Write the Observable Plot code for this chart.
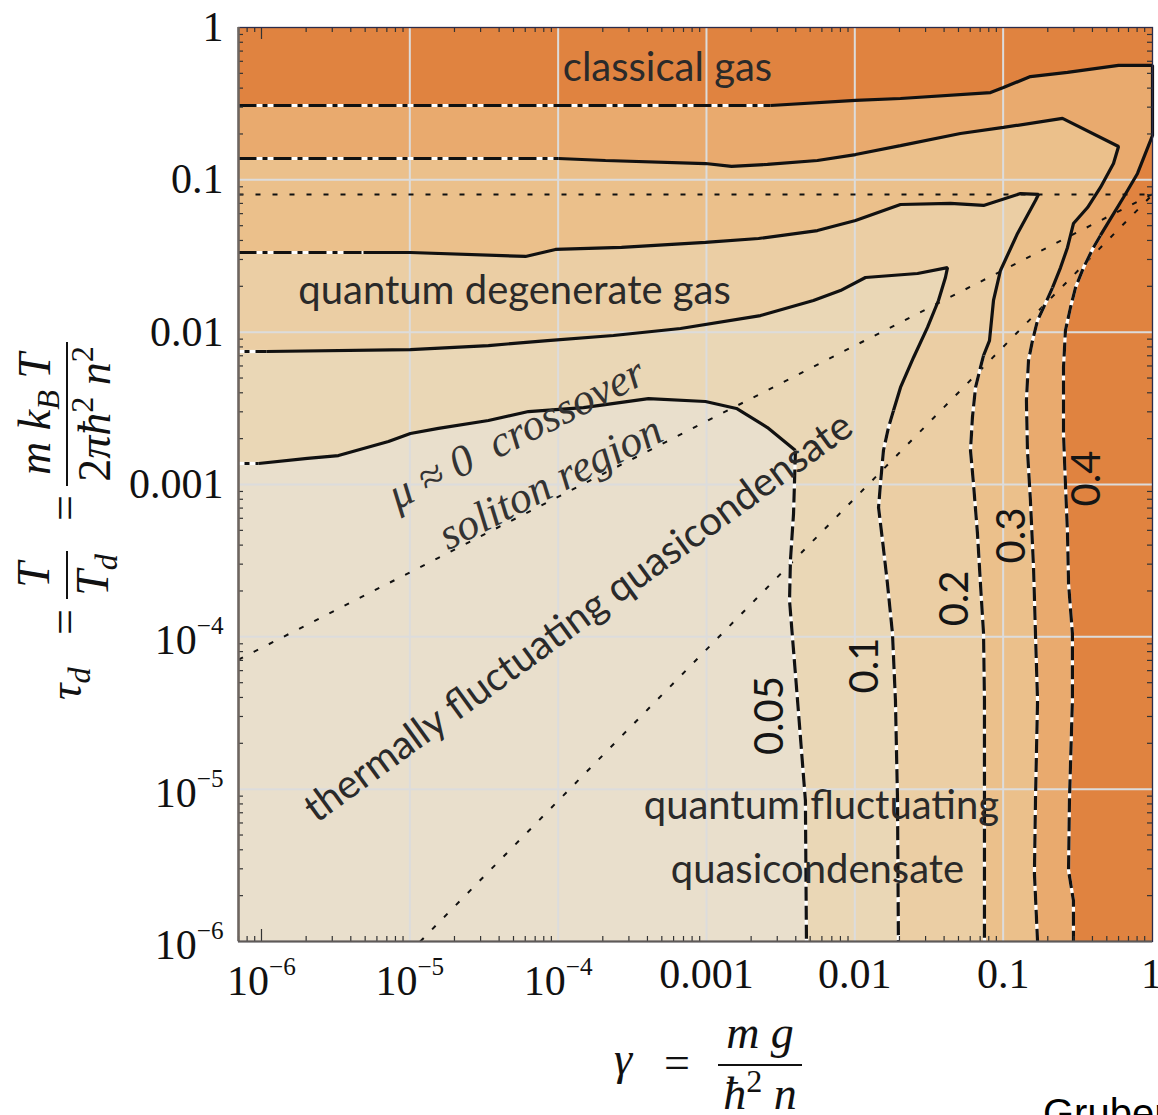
<!DOCTYPE html>
<html><head><meta charset="utf-8">
<script src="https://cdn.jsdelivr.net/npm/d3@7"></script>
<script src="https://cdn.jsdelivr.net/npm/@observablehq/plot@0.6"></script>
<style>
html,body{margin:0;padding:0;background:#fff;}
#chart{width:1158px;height:1115px;overflow:hidden;}
</style></head><body><div id="chart"></div>
<script>
// ---- data (log10 gamma, log10 tau) ----
const xTicks = [1e-6, 1e-5, 1e-4, 1e-3, 1e-2, 1e-1, 1];
const xTickLabels = ["10^−6", "10^−5", "10^−4", "0.001", "0.01", "0.1", "1"];
const yTicks = [1e-6, 1e-5, 1e-4, 1e-3, 1e-2, 1e-1, 1];
const yTickLabels = ["10^−6", "10^−5", "10^−4", "0.001", "0.01", "0.1", "1"];
const xGrid = [1e-5, 1e-4, 1e-3, 1e-2, 1e-1];
const yGrid = [1e-5, 1e-4, 1e-3, 1e-2, 1e-1];

const levels = ["0.4", "0.3", "0.2", "0.1", "0.05"];

const c40_dashdot = [[-6.155,-0.512],[-2.568,-0.512]];
const c40_solid = [[-2.568,-0.512],[-1.995,-0.479],[-1.692,-0.466],[-1.085,-0.427],[-0.998,-0.394],[-0.816,-0.322],[-0.566,-0.295],[-0.222,-0.249],[0.007,-0.249],[0.007,-0.709],[-0.02,-0.775],[-0.094,-0.958],[-0.189,-1.116],[-0.296,-1.287],[-0.344,-1.365]];
const c40_dashed = [[-0.344,-1.365],[-0.391,-1.444],[-0.458,-1.576],[-0.512,-1.707],[-0.546,-1.838],[-0.58,-1.989],[-0.593,-2.232],[-0.593,-2.665],[-0.58,-2.994],[-0.566,-3.322],[-0.559,-3.65],[-0.533,-3.978],[-0.533,-4.418],[-0.553,-5.075],[-0.559,-5.534],[-0.526,-5.731],[-0.526,-6]];

const c30_dashdot = [[-6.155,-0.86],[-3.998,-0.86]];
const c30_solid = [[-3.998,-0.86],[-3.681,-0.873],[-3.007,-0.893],[-2.831,-0.912],[-2.589,-0.899],[-2.252,-0.873],[-1.995,-0.834],[-1.692,-0.775],[-1.288,-0.696],[-0.998,-0.656],[-0.6,-0.597],[-0.222,-0.781],[-0.256,-0.893],[-0.344,-1.05],[-0.431,-1.182],[-0.526,-1.287],[-0.566,-1.444],[-0.613,-1.576],[-0.667,-1.707]];
const c30_dashed = [[-0.667,-1.707],[-0.715,-1.812],[-0.768,-1.923],[-0.802,-2.055],[-0.829,-2.186],[-0.843,-2.449],[-0.836,-2.777],[-0.816,-3.105],[-0.795,-3.545],[-0.782,-3.978],[-0.768,-4.418],[-0.782,-5.075],[-0.789,-5.554],[-0.768,-6]];

const c20_dashdot = [[-6.155,-1.477],[-5.312,-1.477]];
const c20_solid = [[-5.312,-1.477],[-4.996,-1.477],[-4.22,-1.503],[-4.018,-1.457],[-3.573,-1.444],[-3.007,-1.411],[-2.649,-1.385],[-2.252,-1.333],[-1.995,-1.267],[-1.692,-1.162],[-1.355,-1.155],[-1.132,-1.168],[-0.883,-1.09],[-0.762,-1.096],[-0.782,-1.136],[-0.903,-1.352],[-1.018,-1.595],[-1.065,-1.792],[-1.092,-2.055],[-1.132,-2.153]];
const c20_dashed = [[-1.132,-2.153],[-1.153,-2.232],[-1.186,-2.363],[-1.207,-2.56],[-1.22,-2.777],[-1.2,-2.994],[-1.173,-3.322],[-1.153,-3.65],[-1.132,-3.978],[-1.126,-4.418],[-1.126,-5.075],[-1.126,-6]];

const c10_dashdot = [[-6.155,-2.127],[-5.966,-2.127]];
const c10_solid = [[-5.966,-2.127],[-4.996,-2.114],[-4.47,-2.088],[-4.072,-2.055],[-3.627,-2.022],[-3.175,-1.976],[-2.636,-1.891],[-2.279,-1.792],[-2.097,-1.727],[-1.928,-1.641],[-1.577,-1.615],[-1.375,-1.576],[-1.389,-1.641],[-1.436,-1.792],[-1.51,-1.969],[-1.604,-2.166],[-1.692,-2.363],[-1.739,-2.514]];
const c10_dashed = [[-1.739,-2.514],[-1.773,-2.626],[-1.807,-2.777],[-1.827,-2.994],[-1.84,-3.151],[-1.813,-3.368],[-1.78,-3.65],[-1.746,-3.978],[-1.726,-4.418],[-1.712,-5.075],[-1.706,-6]];

const c05_dashdot = [[-6.155,-2.862],[-6.02,-2.862]];
const c05_solid = [[-6.02,-2.862],[-5.69,-2.829],[-5.481,-2.81],[-5.144,-2.718],[-4.996,-2.665],[-4.807,-2.632],[-4.47,-2.58],[-4.2,-2.521],[-3.829,-2.495],[-3.391,-2.436],[-3.007,-2.455],[-2.798,-2.501],[-2.589,-2.626],[-2.4,-2.777]];
const c05_dashed = [[-2.4,-2.777],[-2.413,-3.19],[-2.434,-3.499],[-2.44,-3.762],[-2.413,-4.09],[-2.386,-4.418],[-2.333,-5.075],[-2.326,-6]];

const dotHorizontal = [[-6.155,-1.097],[0.007,-1.097]];
const dotCrossover = [[-6.155,-4.15],[0.007,-1.093]];
const dotSoliton = [[-4.93,-6],[0.007,-1.097]];

const regionLabels = [
  {text: "classical gas", lg: -3.263, lt: -0.269},
  {text: "quantum degenerate gas", lg: -4.294, lt: -1.733},
  {text: "quantum fluctuating", lg: -2.225, lt: -5.114},
  {text: "quasicondensate", lg: -2.252, lt: -5.534}
];
const diagLabels = [{text: "thermally fluctuating quasicondensate", lg: -3.863, lt: -3.873}];
const italicLabels = [
  {text: "μ ≈ 0  crossover", lg: -4.281, lt: -2.665},
  {text: "soliton region", lg: -4.052, lt: -2.987}
];
const levelLabelPos = [[-0.431,-2.961],[-0.937,-3.335],[-1.321,-3.748],[-1.928,-4.188],[-2.568,-4.517]];

// ---- styles ----
const bandColors = ["#E08340", "#E9AA6E", "#EBC08B", "#EBCEA4", "#EAD7B6", "#E9DFCC"];
const W = 1158, H = 1115, mL = 238, mR = 6, mT = 27, mB = 174;
const pw = W - mL - mR, ph = H - mT - mB;
const xDomain = [10 ** -6.155, 10 ** 0.007];
const yDomain = [1e-6, 1];

const P = arr => arr.map(([a, b]) => ({x: 10 ** a, y: 10 ** b}));
const corner = {x: xDomain[0], y: yDomain[0]};
const contours = [
  {dd: c40_dashdot, s: c40_solid, d: c40_dashed, fill: bandColors[1], off: 0},
  {dd: c30_dashdot, s: c30_solid, d: c30_dashed, fill: bandColors[2], off: 0},
  {dd: c20_dashdot, s: c20_solid, d: c20_dashed, fill: bandColors[3], off: 0},
  {dd: c10_dashdot, s: c10_solid, d: c10_dashed, fill: bandColors[4], off: 18},
  {dd: c05_dashdot, s: c05_solid, d: c05_dashed, fill: bandColors[5], off: 18}
];

const xMinor = [], yMinor = [];
for (let n = -7; n <= 0; n++) for (let k = 2; k <= 9; k++) {
  const v = k * 10 ** n;
  if (v >= xDomain[0] && v <= xDomain[1]) xMinor.push(v);
  if (v >= yDomain[0] && v <= yDomain[1]) yMinor.push(v);
}

const XY = {x: "x", y: "y"};
const LW = 3.2;
const marks = [
  Plot.frame({fill: bandColors[0], stroke: "none"}),
  ...contours.map(c => Plot.line([...P(c.dd), ...P(c.s), ...P(c.d), corner], {...XY, fill: c.fill, stroke: "none"})),
  Plot.gridX(xGrid, {stroke: "#dcdcdc", strokeOpacity: 1, strokeWidth: 2}),
  Plot.gridY(yGrid, {stroke: "#dcdcdc", strokeOpacity: 1, strokeWidth: 2}),
  ...[dotHorizontal, dotCrossover, dotSoliton].map(d => Plot.line(P(d), {...XY, stroke: "#111", strokeWidth: 2, strokeDasharray: "5,12", strokeLinecap: "butt"})),
];
for (const c of contours) {
  marks.push(
    Plot.line(P(c.dd), {...XY, stroke: "white", strokeWidth: LW, strokeLinecap: "butt"}),
    Plot.line(P(c.dd), {...XY, stroke: "#111", strokeWidth: LW, strokeDasharray: "18,6,5,6", strokeDashoffset: c.off, strokeLinecap: "butt"}),
    Plot.line(P(c.s), {...XY, stroke: "#111", strokeWidth: LW, strokeLinecap: "butt", strokeLinejoin: "miter"}),
    Plot.line(P(c.d), {...XY, stroke: "white", strokeWidth: LW, strokeLinecap: "butt"}),
    Plot.line(P(c.d), {...XY, stroke: "#111", strokeWidth: LW, strokeDasharray: "14,5", strokeLinecap: "butt"})
  );
}
marks.push(
  Plot.tickX(xMinor, {x: d => d, insetTop: ph - 5, stroke: "#333", strokeWidth: 1.2}),
  Plot.tickX(xMinor, {x: d => d, insetBottom: ph - 5, stroke: "#333", strokeWidth: 1.2}),
  Plot.tickX([1e-6], {x: d => d, insetTop: ph - 12, stroke: "#333", strokeWidth: 1.2}),
  Plot.tickX([1e-6], {x: d => d, insetBottom: ph - 12, stroke: "#333", strokeWidth: 1.2}),
  Plot.tickY(yMinor, {y: d => d, insetRight: pw - 5, stroke: "#333", strokeWidth: 1.2}),
  Plot.tickY(yMinor, {y: d => d, insetLeft: pw - 5, stroke: "#333", strokeWidth: 1.2}),
  Plot.frame({stroke: "#2c2c4a", strokeWidth: 1.3}),
  Plot.ruleX([xDomain[0]], {stroke: "#6e6660", strokeWidth: 2.5}),
  Plot.ruleY([yDomain[0]], {stroke: "#5e5a58", strokeWidth: 2}),
  Plot.text(regionLabels, {x: d => 10 ** d.lg, y: d => 10 ** d.lt, text: "text", fontFamily: "Lato", fontSize: 40, fill: "#2a2a2a", lineAnchor: "middle"}),
  Plot.text(diagLabels, {x: d => 10 ** d.lg, y: d => 10 ** d.lt, text: "text", fontFamily: "Lato", fontSize: 40, fill: "#2a2a2a", lineAnchor: "middle", rotate: -36}),
  Plot.text(italicLabels, {x: d => 10 ** d.lg, y: d => 10 ** d.lt, text: "text", fontFamily: "Liberation Serif", fontStyle: "italic", fontSize: 44, fill: "#333", lineAnchor: "middle", rotate: -27}),
  Plot.text(levels, {x: (d, i) => 10 ** levelLabelPos[i][0], y: (d, i) => 10 ** levelLabelPos[i][1], text: d => d, fontFamily: "Lato", fontSize: 40, fill: "#151515", lineAnchor: "middle", rotate: -90}),
  Plot.axisX({ticks: xTicks, tickSize: 0, tickPadding: 17, fontSize: 42, tickFormat: d => xTickLabels[xTicks.indexOf(d)], fill: "#111"}),
  Plot.axisY({ticks: yTicks, tickSize: 0, tickPadding: 15, fontSize: 42, tickFormat: d => yTickLabels[yTicks.indexOf(d)], fill: "#111"})
);

const svg = Plot.plot({
  width: W, height: H,
  marginLeft: mL, marginRight: mR, marginTop: mT, marginBottom: mB,
  x: {type: "log", domain: xDomain, label: null},
  y: {type: "log", domain: yDomain, label: null},
  style: {fontFamily: "Liberation Serif", background: "white", color: "#111", overflow: "hidden"},
  marks
});
document.getElementById("chart").appendChild(svg);

// superscript tick labels
const NS = "http://www.w3.org/2000/svg";
for (const t of svg.querySelectorAll("text")) {
  const m = /^10\^(.+)$/.exec(t.textContent);
  if (!m) continue;
  const isX = (t.closest("g[aria-label]")?.getAttribute("aria-label") || "").startsWith("x");
  t.textContent = "";
  const a = document.createElementNS(NS, "tspan");
  a.textContent = "10"; a.setAttribute("dy", isX ? "7" : "4");
  const b = document.createElementNS(NS, "tspan");
  b.textContent = m[1]; b.setAttribute("font-size", "0.6em"); b.setAttribute("dy", "-20");
  t.appendChild(a); t.appendChild(b);
}

// math axis labels
const root = d3.select(svg);
function txt(parent, x, y, parts, anchor) {
  const t = parent.append("text").attr("x", x).attr("y", y).attr("text-anchor", anchor || "start");
  for (const p of parts) {
    const s = t.append("tspan").text(p.t);
    if (p.i) s.attr("font-style", "italic");
    if (p.small) s.attr("font-size", "0.7em");
    if (p.dy) s.attr("dy", p.dy);
  }
  return t;
}
const gx = root.append("g").attr("font-family", "Liberation Serif").attr("font-size", 46).attr("fill", "#111");
txt(gx, 614, 1074, [{t: "γ", i: true}]);
txt(gx, 677, 1078, [{t: "="}], "middle");
gx.append("line").attr("x1", 718).attr("x2", 802).attr("y1", 1065).attr("y2", 1065).attr("stroke", "#111").attr("stroke-width", 2);
txt(gx, 760, 1048, [{t: "m", i: true}, {t: " g", i: true}], "middle");
txt(gx, 760, 1109, [{t: "ħ", i: true}, {t: "2", small: true, dy: -17}, {t: " n", i: true, dy: 17}], "middle");

const gy = root.append("g").attr("transform", "rotate(-90)").attr("font-family", "Liberation Serif").attr("font-size", 46).attr("fill", "#111");
txt(gy, -700, 81, [{t: "τ", i: true}, {t: "d", i: true, small: true, dy: 9}]);
txt(gy, -622, 80, [{t: "="}], "middle");
gy.append("line").attr("x1", -599).attr("x2", -551).attr("y1", 67).attr("y2", 67).attr("stroke", "#111").attr("stroke-width", 2);
txt(gy, -575, 49, [{t: "T", i: true}], "middle");
txt(gy, -575, 108, [{t: "T", i: true}, {t: "d", i: true, small: true, dy: 9}], "middle");
txt(gy, -508, 80, [{t: "="}], "middle");
gy.append("line").attr("x1", -486).attr("x2", -342).attr("y1", 67).attr("y2", 67).attr("stroke", "#111").attr("stroke-width", 2);
txt(gy, -414, 50, [{t: "m", i: true}, {t: " k", i: true}, {t: "B", i: true, small: true, dy: 9}, {t: " T", i: true, dy: -9}], "middle");
txt(gy, -414, 110, [{t: "2"}, {t: "πħ", i: true}, {t: "2", small: true, dy: -17}, {t: " n", i: true, dy: 17}, {t: "2", small: true, dy: -17}], "middle");

root.append("text").attr("x", 1043).attr("y", 1127).attr("text-anchor", "start").attr("font-family", "Liberation Sans").attr("font-size", 40).attr("fill", "#000").text("Gruber");
</script></body></html>
